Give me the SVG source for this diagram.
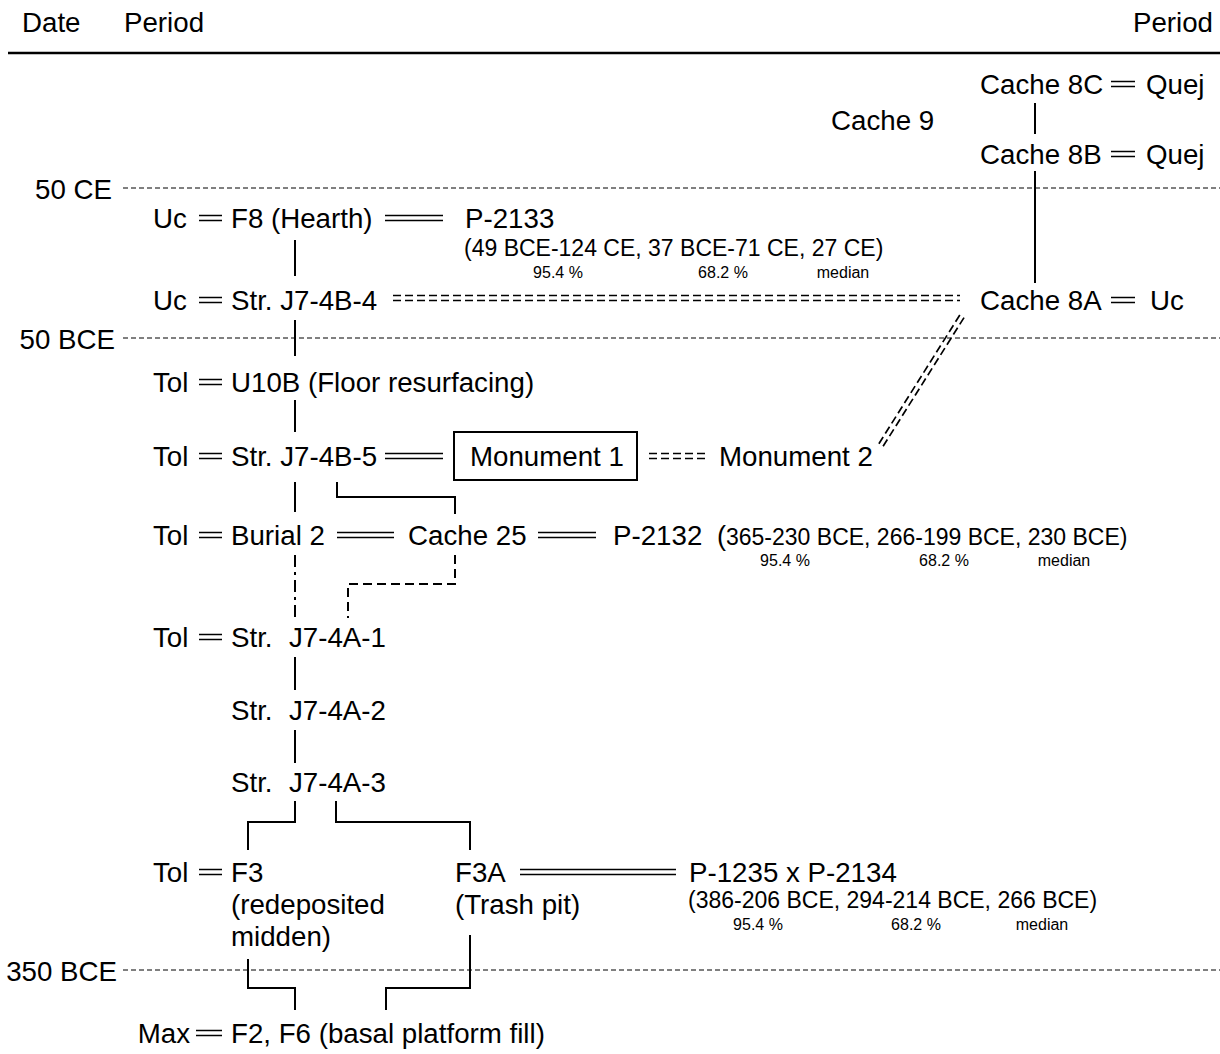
<svg xmlns="http://www.w3.org/2000/svg" width="1220" height="1054" viewBox="0 0 1220 1054">
<style>
text{font-family:"Liberation Sans",Arial,sans-serif;fill:#000}
.t{font-size:27.7px}
.p{font-size:23px}
.s{font-size:16px;text-anchor:middle}
.e{text-anchor:end}
.ln{stroke:#000;stroke-width:2;fill:none}
.dbl{stroke:#000;stroke-width:1.7;fill:none}
.dd{stroke:#000;stroke-width:1.7;fill:none;stroke-dasharray:8 4}
.dot{stroke:#000;stroke-width:1;fill:none;stroke-dasharray:5 3}
.dsh{stroke:#000;stroke-width:2;fill:none;stroke-dasharray:9 5}
.dda{stroke:#000;stroke-width:2;fill:none;stroke-dasharray:12 5 3 5}
</style>
<rect width="1220" height="1054" fill="#fff"/>
<g id="header">
<text class="t" x="22" y="32">Date</text>
<text class="t" x="124" y="32">Period</text>
<text class="t e" x="1213" y="32">Period</text>
<line x1="8" y1="53" x2="1220" y2="53" stroke="#000" stroke-width="2.5"/>
</g>
<g id="timescale">
<text class="t e" x="112" y="199">50 CE</text>
<text class="t e" x="115" y="349">50 BCE</text>
<text class="t e" x="117" y="981">350 BCE</text>
<line class="dot" x1="123" y1="188" x2="1220" y2="188"/>
<line class="dot" x1="123" y1="338" x2="1220" y2="338"/>
<line class="dot" x1="123" y1="970" x2="1220" y2="970"/>
</g>
<g id="connectors">
<path class="dbl" d="M1111 81.5H1135M1111 86.5H1135"/>
<path class="dbl" d="M1111 151.5H1135M1111 156.5H1135"/>
<path class="dbl" d="M1111 297.5H1135M1111 302.5H1135"/>
<path class="dbl" d="M199 215.5H222M199 220.5H222"/>
<path class="dbl" d="M199 297.5H222M199 302.5H222"/>
<path class="dbl" d="M199 379.5H222M199 384.5H222"/>
<path class="dbl" d="M199 453.5H222M199 458.5H222"/>
<path class="dbl" d="M199 532.5H222M199 537.5H222"/>
<path class="dbl" d="M199 634.5H222M199 639.5H222"/>
<path class="dbl" d="M199 869.5H222M199 874.5H222"/>
<path class="dbl" d="M196 1030.5H222M196 1035.5H222"/>
<path class="dbl" d="M385 215.5H443M385 220.5H443"/>
<path class="dbl" d="M385 453.5H443M385 458.5H443"/>
<path class="dbl" d="M337 532.5H394M337 537.5H394"/>
<path class="dbl" d="M538 532.5H596M538 537.5H596"/>
<path class="dbl" d="M520 869.5H676M520 874.5H676"/>
<path class="dd" d="M393 295.5H960M393 300.5H960"/>
<path class="dd" d="M649 453.5H708M649 458.5H708"/>
<path class="dd" d="M878.9 443.7L961.9 311.7M883.1 446.3L966.1 314.3"/>
<line class="ln" x1="1035" y1="103" x2="1035" y2="134"/>
<line class="ln" x1="1035" y1="171" x2="1035" y2="283"/>
<line class="ln" x1="295" y1="240" x2="295" y2="276"/>
<line class="ln" x1="295" y1="320" x2="295" y2="356"/>
<line class="ln" x1="295" y1="400" x2="295" y2="432"/>
<line class="ln" x1="295" y1="482" x2="295" y2="512"/>
<line class="dda" x1="295" y1="555" x2="295" y2="620"/>
<line class="ln" x1="295" y1="657" x2="295" y2="690"/>
<line class="ln" x1="295" y1="730" x2="295" y2="763"/>
<path class="ln" d="M337 482V497H455V514"/>
<path class="dsh" d="M455 555V584H348V618"/>
<path class="ln" d="M295 801V822H248V850"/>
<path class="ln" d="M336 801V822H470V850"/>
<path class="ln" d="M248 959V988H295V1010"/>
<path class="ln" d="M470 935V988H386V1010"/>
</g>
<g id="cache8c"><text class="t" x="980" y="94">Cache 8C</text><text class="t" x="1146" y="94">Quej</text></g>
<g id="cache9"><text class="t" x="831" y="130">Cache 9</text></g>
<g id="cache8b"><text class="t" x="980" y="164">Cache 8B</text><text class="t" x="1146" y="164">Quej</text></g>
<g id="cache8a"><text class="t" x="980" y="310">Cache 8A</text><text class="t" x="1150" y="310">Uc</text></g>
<g id="f8"><text class="t" x="153" y="228">Uc</text><text class="t" x="231" y="228">F8 (Hearth)</text></g>
<g id="p2133">
<text class="t" x="465" y="228">P-2133</text>
<text class="p" x="464" y="256">(49 BCE-124 CE, 37 BCE-71 CE, 27 CE)</text>
<text class="s" x="558" y="278">95.4 %</text>
<text class="s" x="723" y="278">68.2 %</text>
<text class="s" x="843" y="278">median</text>
</g>
<g id="j7-4b-4"><text class="t" x="153" y="310">Uc</text><text class="t" x="231" y="310">Str. J7-4B-4</text></g>
<g id="u10b"><text class="t" x="153" y="392">Tol</text><text class="t" x="231" y="392">U10B (Floor resurfacing)</text></g>
<g id="j7-4b-5"><text class="t" x="153" y="466">Tol</text><text class="t" x="231" y="466">Str. J7-4B-5</text></g>
<g id="monument1"><rect x="454" y="432" width="183" height="48" fill="none" stroke="#000" stroke-width="2"/><text class="t" x="470" y="466">Monument 1</text></g>
<g id="monument2"><text class="t" x="719" y="466">Monument 2</text></g>
<g id="burial2"><text class="t" x="153" y="545">Tol</text><text class="t" x="231" y="545">Burial 2</text></g>
<g id="cache25"><text class="t" x="408" y="545">Cache 25</text></g>
<g id="p2132">
<text class="t" x="613" y="545">P-2132</text>
<text class="p" x="717" y="545"><tspan font-size="27">(</tspan>365-230 BCE, 266-199 BCE, 230 BCE)</text>
<text class="s" x="785" y="566">95.4 %</text>
<text class="s" x="944" y="566">68.2 %</text>
<text class="s" x="1064" y="566">median</text>
</g>
<g id="j7-4a-1"><text class="t" x="153" y="647">Tol</text><text class="t" x="231" y="647">Str.</text><text class="t" x="289" y="647">J7-4A-1</text></g>
<g id="j7-4a-2"><text class="t" x="231" y="720">Str.</text><text class="t" x="289" y="720">J7-4A-2</text></g>
<g id="j7-4a-3"><text class="t" x="231" y="792">Str.</text><text class="t" x="289" y="792">J7-4A-3</text></g>
<g id="f3"><text class="t" x="153" y="882">Tol</text><text class="t" x="231" y="882">F3</text><text class="t" x="231" y="914">(redeposited</text><text class="t" x="231" y="946">midden)</text></g>
<g id="f3a"><text class="t" x="455" y="882">F3A</text><text class="t" x="455" y="914">(Trash pit)</text></g>
<g id="p1235">
<text class="t" x="689" y="882">P-1235 x P-2134</text>
<text class="p" x="688" y="908">(386-206 BCE, 294-214 BCE, 266 BCE)</text>
<text class="s" x="758" y="930">95.4 %</text>
<text class="s" x="916" y="930">68.2 %</text>
<text class="s" x="1042" y="930">median</text>
</g>
<g id="f2f6"><text class="t e" x="190" y="1043">Max</text><text class="t" x="231" y="1043">F2, F6 (basal platform fill)</text></g>
</svg>
